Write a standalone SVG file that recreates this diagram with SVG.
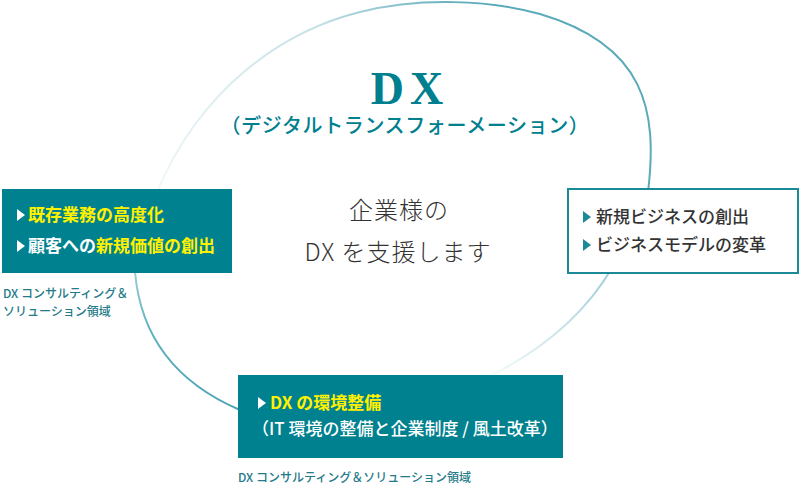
<svg xmlns="http://www.w3.org/2000/svg" width="800" height="487" viewBox="0 0 800 487">
<defs>
<style>
.jp{font-family:"Noto Sans CJK JP","Noto Sans",sans-serif;}
.box{fill:#00818f;}
.yel{fill:#fff100;}
.wht{fill:#ffffff;}
.dark{fill:#333333;}
.lbl{fill:#237a89;font-size:12px;font-weight:500;}
.tri{fill:#ffffff;}
.tri2{fill:#1a8a99;}
</style>
<linearGradient id="gTop" gradientUnits="userSpaceOnUse" x1="470" y1="0" x2="160" y2="190">
<stop offset="0" stop-color="#5aaab9"/>
<stop offset="0.4" stop-color="#c6e1e7"/>
<stop offset="1" stop-color="#f0f7f8"/>
</linearGradient>
<linearGradient id="gBR" gradientUnits="userSpaceOnUse" x1="610" y1="270" x2="490" y2="375">
<stop offset="0" stop-color="#9ccdd6"/>
<stop offset="1" stop-color="#f6fbfc"/>
</linearGradient>
<linearGradient id="gBL" gradientUnits="userSpaceOnUse" x1="135" y1="274" x2="240" y2="410">
<stop offset="0" stop-color="#98ccd6"/>
<stop offset="0.3" stop-color="#5fb0bf"/>
<stop offset="1" stop-color="#4aa3b4"/>
</linearGradient>
</defs>

<g id="connectors" fill="none" stroke-width="2">
<path d="M 648 192 C 658 110 645 45 540 14 C 490 0 420 -3 360 12 C 280 32 200 90 157 192" stroke="url(#gTop)"/>
<path d="M 490 376 C 530 356 580 322 612 268" stroke="url(#gBR)"/>
<path d="M 135 272 C 140 330 170 380 240 410" stroke="url(#gBL)"/>
</g>

<g id="title" class="jp">
<text x="410" y="104" text-anchor="middle" font-family="'Liberation Serif',serif" font-weight="bold" font-size="46" letter-spacing="6" fill="#00808f">DX</text>
<text x="405" y="133" text-anchor="middle" font-size="20" font-weight="500" fill="#00808f" letter-spacing="0.6">（デジタルトランスフォーメーション）</text>
</g>

<g id="center" class="jp dark">
<text x="399" y="219" text-anchor="middle" font-size="24" font-weight="300" letter-spacing="1">企業様の</text>
<text x="398" y="261" text-anchor="middle" font-size="24" font-weight="300" letter-spacing="1">DX を支援します</text>
</g>

<g id="node-left" class="jp">
<rect class="box" x="2" y="189" width="230" height="84"/>
<polygon class="tri" points="17,209 25,215 17,221"/>
<text class="yel" x="28" y="221" font-size="17" font-weight="bold">既存業務の高度化</text>
<polygon class="tri" points="17,240 25,246 17,252"/>
<text x="28" y="252" font-size="17" font-weight="bold"><tspan class="wht">顧客への</tspan><tspan class="yel">新規価値の創出</tspan></text>
<text class="lbl" x="3" y="298">DX コンサルティング＆</text>
<text class="lbl" x="3" y="316">ソリューション領域</text>
</g>

<g id="node-right" class="jp">
<rect x="568" y="189" width="230" height="84" fill="#ffffff" stroke="#1a8a99" stroke-width="2"/>
<polygon class="tri2" points="583,211 591,217 583,223"/>
<text class="dark" x="596" y="223" font-size="17" font-weight="500">新規ビジネスの創出</text>
<polygon class="tri2" points="583,239 591,245 583,251"/>
<text class="dark" x="596" y="251" font-size="17" font-weight="500">ビジネスモデルの変革</text>
</g>

<g id="node-bottom" class="jp">
<rect class="box" x="238" y="375" width="325" height="83"/>
<polygon class="tri" points="258,397 266,403 258,409"/>
<text class="yel" x="270" y="409" font-size="17" font-weight="bold">DX の環境整備</text>
<text class="wht" x="252" y="435" font-size="17" font-weight="500">（IT 環境の整備と企業制度 / 風土改革）</text>
<text class="lbl" x="238" y="482">DX コンサルティング＆ソリューション領域</text>
</g>
</svg>
